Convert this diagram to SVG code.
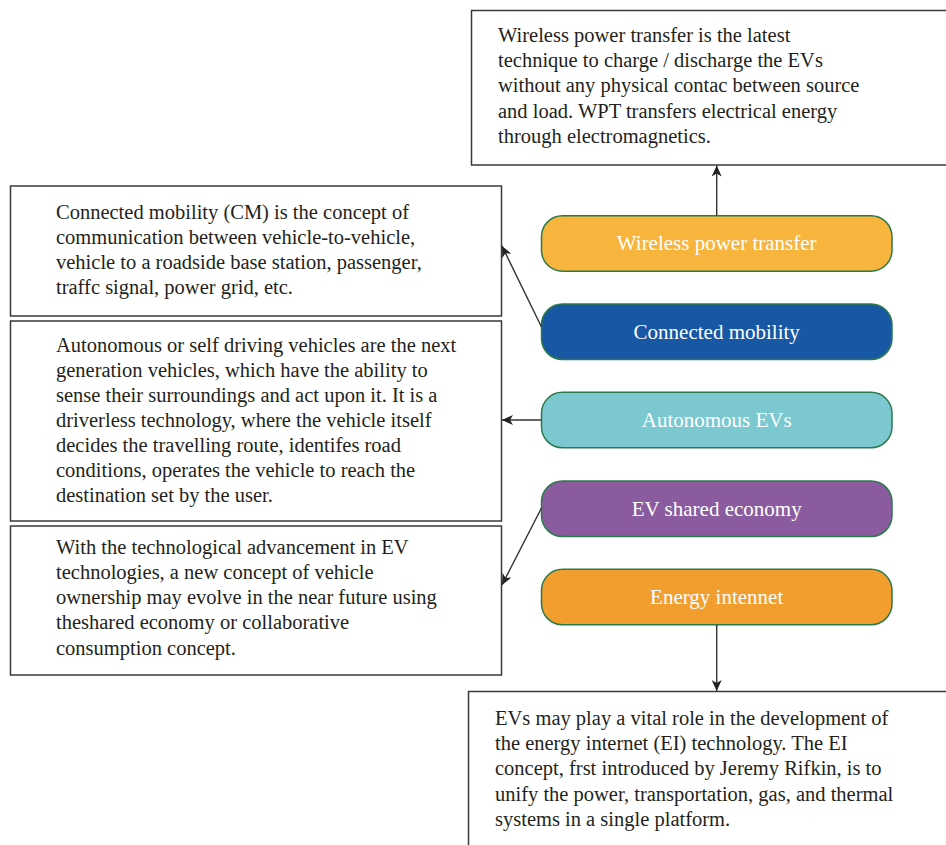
<svg xmlns="http://www.w3.org/2000/svg" width="946" height="845" viewBox="0 0 946 845">
<style>
.box{fill:#fff;stroke:#3a3a3a;stroke-width:1.5}
.pill{stroke:#2b7a4b;stroke-width:1.5}
.body{font-family:"Liberation Serif","Times New Roman",serif;font-size:20.5px;fill:#231f20}
.lbl{font-family:"Liberation Serif","Times New Roman",serif;font-size:21px;fill:#fff;text-anchor:middle}
.conn{stroke:#333;stroke-width:1.4;fill:none;marker-end:url(#ah)}
</style>
<defs>
<marker id="ah" markerUnits="userSpaceOnUse" markerWidth="12" markerHeight="10" refX="11" refY="5" orient="auto">
<path d="M0,0 L11,5 L0,10 L3,5 z" fill="#222"/>
</marker>
</defs>
<rect width="946" height="845" fill="#fff"/>

<g id="wpt-desc">
<rect class="box" x="471.5" y="10.5" width="490" height="154.5"/>
<text class="body"><tspan x="498" y="42">Wireless power transfer is the latest</tspan><tspan x="498" y="67">technique to charge / discharge the EVs</tspan><tspan x="498" y="92">without any physical contac between source</tspan><tspan x="498" y="118">and load. WPT transfers electrical energy</tspan><tspan x="498" y="143">through electromagnetics.</tspan></text>
</g>

<g id="cm-desc">
<rect class="box" x="10.5" y="186" width="491" height="130"/>
<text class="body"><tspan x="56" y="219">Connected mobility (CM) is the concept of</tspan><tspan x="56" y="244">communication between vehicle-to-vehicle,</tspan><tspan x="56" y="269">vehicle to a roadside base station, passenger,</tspan><tspan x="56" y="294">traffc signal, power grid, etc.</tspan></text>
</g>

<g id="aev-desc">
<rect class="box" x="10.5" y="321" width="491" height="200"/>
<text class="body"><tspan x="56" y="352">Autonomous or self driving vehicles are the next</tspan><tspan x="56" y="377">generation vehicles, which have the ability to</tspan><tspan x="56" y="402">sense their surroundings and act upon it. It is a</tspan><tspan x="56" y="427">driverless technology, where the vehicle itself</tspan><tspan x="56" y="452">decides the travelling route, identifes road</tspan><tspan x="56" y="477">conditions, operates the vehicle to reach the</tspan><tspan x="56" y="502">destination set by the user.</tspan></text>
</g>

<g id="evse-desc">
<rect class="box" x="10.5" y="526" width="491" height="149"/>
<text class="body"><tspan x="56" y="554">With the technological advancement in EV</tspan><tspan x="56" y="579">technologies, a new concept of vehicle</tspan><tspan x="56" y="604">ownership may evolve in the near future using</tspan><tspan x="56" y="629">theshared economy or collaborative</tspan><tspan x="56" y="655">consumption concept.</tspan></text>
</g>

<g id="ei-desc">
<rect class="box" x="468.5" y="691.5" width="500" height="200"/>
<text class="body"><tspan x="495" y="725">EVs may play a vital role in the development of</tspan><tspan x="495" y="750">the energy internet (EI) technology. The EI</tspan><tspan x="495" y="775">concept, frst introduced by Jeremy Rifkin, is to</tspan><tspan x="495" y="801">unify the power, transportation, gas, and thermal</tspan><tspan x="495" y="826">systems in a single platform.</tspan></text>
</g>

<g id="wpt">
<rect class="pill" x="541.5" y="215.7" width="350.5" height="55.5" rx="21" fill="#f7b53d"/>
<text class="lbl" x="716.7" y="250">Wireless power transfer</text>
</g>
<g id="cm">
<rect class="pill" x="541.5" y="304" width="350.5" height="55.5" rx="21" fill="#1757a4"/>
<text class="lbl" x="716.7" y="338.5">Connected mobility</text>
</g>
<g id="aev">
<rect class="pill" x="541.5" y="392.3" width="350.5" height="55.5" rx="21" fill="#7bc8d1"/>
<text class="lbl" x="716.7" y="426.8">Autonomous EVs</text>
</g>
<g id="evse">
<rect class="pill" x="541.5" y="481" width="350.5" height="55.5" rx="21" fill="#8a5c9f"/>
<text class="lbl" x="716.7" y="515.5">EV shared economy</text>
</g>
<g id="ei">
<rect class="pill" x="541.5" y="569.3" width="350.5" height="55.5" rx="21" fill="#f29e2e"/>
<text class="lbl" x="716.7" y="603.8">Energy intennet</text>
</g>

<g id="connectors">
<line class="conn" x1="716.7" y1="215.7" x2="716.7" y2="165.5"/>
<line class="conn" x1="541.5" y1="327" x2="502" y2="246"/>
<line class="conn" x1="541.5" y1="420" x2="502" y2="420"/>
<line class="conn" x1="541.5" y1="508" x2="502" y2="585"/>
<line class="conn" x1="716.7" y1="624.8" x2="716.7" y2="691"/>
</g>
</svg>
